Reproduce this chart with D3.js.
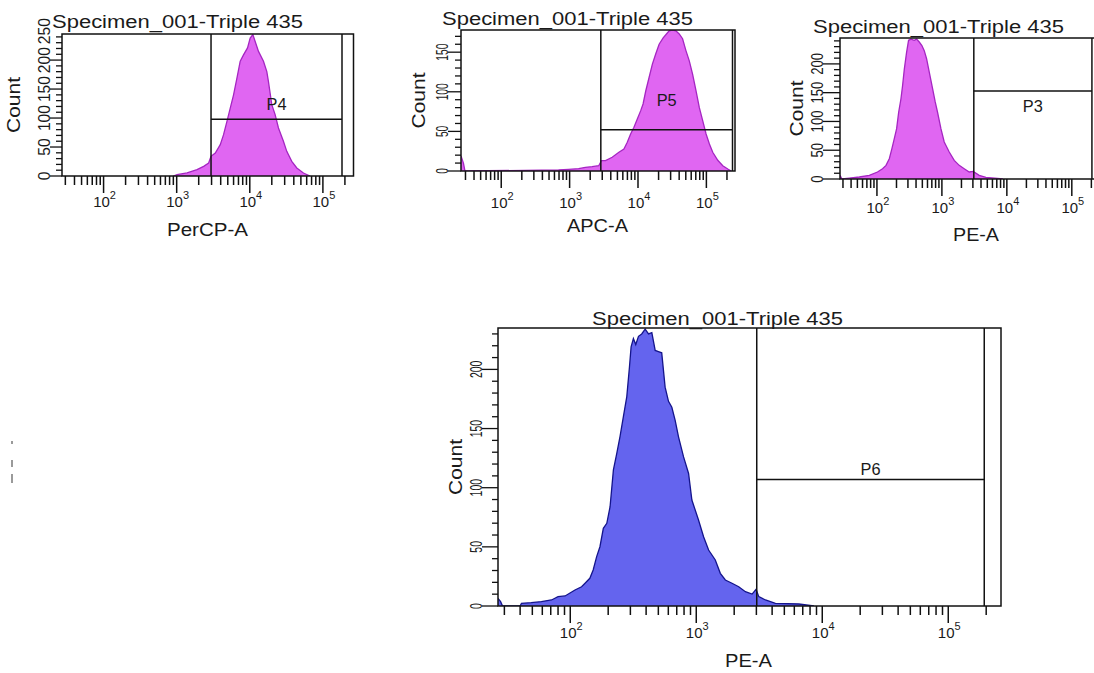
<!DOCTYPE html>
<html>
<head>
<meta charset="utf-8">
<script src="https://cdnjs.cloudflare.com/ajax/libs/d3/7.8.5/d3.min.js"></script>
<style>
  body { margin: 0; background: #fff; }
  svg { display: block; font-family: "Liberation Sans", Arial, sans-serif; fill: #1a1a1a; }
</style>
</head>
<body>
<div id="chart"></div>
<script>
// Define the width and height of the SVG
const width = 1094;
const height = 673;

// Histogram data: channel value -> event count
const perCpValues = [900, 1012, 1386, 1897, 2339, 2737, 2946, 3373, 3945, 4377, 4871, 5404, 5998, 6668, 7396, 8205,
  9311, 10122, 11015, 11846, 13149, 15385, 17096, 17997, 19994, 22206, 24669, 28844, 32054, 37510, 43952, 54128, 66681];
const perCpCounts = [0, 2.3, 5.2, 10.9, 16.7, 22.4, 33.9, 39.7, 54, 71.3, 94.3, 117, 140, 169, 198, 209,
  221, 238, 244, 232, 215, 198, 180, 163, 123, 106, 82.8, 59.8, 42.5, 25.3, 13.8, 5.2, 0];

const apcValues = [25.8, 28, 29.5, 689, 966, 1355, 1700, 2130, 2667, 2922, 3350, 4192, 5256, 6226, 6970,
  7800, 8730, 9770, 10960, 11860, 12980, 14520, 16230, 18200, 20370, 23330, 26080, 28580, 31990, 35810,
  40090, 44870, 50230, 56230, 62950, 70590, 78900, 88310, 99000, 110700, 123900, 146700, 173600, 205700, 230300];
const apcCounts = [19, 10, 0, 1.3, 2.1, 2.9, 4.6, 5.5, 6.7, 13, 13, 17.3, 23.6, 27.8, 36.2,
  46.7, 55.1, 65.7, 76.2, 84.6, 101, 118, 135, 148, 160, 168, 173, 177, 178, 177,
  173, 167, 152, 139, 122, 101, 80, 63.5, 46.7, 34, 23.6, 13.5, 6.7, 2.5, 0];

const peSmallValues = [27, 29, 37.5, 53.5, 76.3, 102, 122, 138, 155, 170, 185, 201, 216, 234, 248, 264, 286, 307,
  334, 375, 408, 448, 492, 535, 581, 638, 719, 789, 857, 966, 1086, 1297, 1549, 1847, 2205, 2633, 3033,
  3753, 4753, 6500, 8670];
const peSmallCounts = [6.4, 0, 1.7, 3.5, 6.4, 12.2, 17.9, 23.7, 35.3, 52.7, 70, 87.4, 116, 139, 162, 191, 220, 241,
  243, 241, 243, 238, 232, 223, 209, 186, 157, 134, 116, 87.4, 64.3, 46.9, 32.4, 23.7, 17.9, 12.2, 13.3,
  6.4, 2.9, 1.5, 0];

const peBigValues = [26.7, 28, 29, 40, 41, 49, 59, 71, 80, 91, 109, 123, 131, 143, 152, 162, 172, 183, 195, 207,
  220, 234, 248, 264, 281, 295, 304, 317, 331, 348, 369, 393, 418, 444, 472, 501, 532, 566, 602, 640,
  680, 723, 793, 869, 923, 1042, 1143, 1253, 1416, 1552, 1702, 1921, 2172, 2455, 2773, 2984, 3135, 3542,
  4250, 6510, 8580];
const peBigCounts = [6.5, 3.7, 0, 0, 2.3, 2.8, 3.7, 5.1, 7.9, 8.5, 13.5, 16.3, 19.2, 23.4, 30.4, 41.7, 50.1, 65.7, 69.9, 83.9,
  115, 129, 143, 160, 177, 202, 219, 226, 221, 228, 230, 234, 230, 231, 216, 215, 214, 185, 173, 168,
  157, 143, 126, 112, 89.6, 72.7, 58.6, 47.3, 38.9, 27.6, 22, 19.2, 16.3, 12.1, 10.1, 14.1, 7.9, 5.1,
  2.3, 1.7, 0];

// Per-plot texts, axis maxima and gates
const titles = ["Specimen_001-Triple 435", "Specimen_001-Triple 435", "Specimen_001-Triple 435", "Specimen_001-Triple 435"];
const xLabels = ["PerCP-A", "APC-A", "PE-A", "PE-A"];
const xMins = [27, 25.8, 27, 26.7];
const xMax = 262144;
const yMaxes = [245, 178, 245, 235];
const yLabelMaxes = [250, 150, 200, 200];
const gateNames = ["P4", "P5", "P3", "P6"];
const gateLows = [2950, 2860, 3100, 3020];
const gateHighs = [182500, 241000, 204000, 193000];
const gateLevels = [98, 52, 153, 107];
const gateLabelLevels = [114, 82, 116, 111];

const seriesValues = [perCpValues, apcValues, peSmallValues, peBigValues];
const seriesCounts = [perCpCounts, apcCounts, peSmallCounts, peBigCounts];

// Layout / style of each plot (pixels)
const layouts = [
  { l: 62, t: 34, r: 353.5, b: 176, titleX: 52, titleY: 28, tickY: 207, labelX: 207.5, labelY: 236, labelW: 81,
    countX: 20, yLabOff: 12, digitW: 8.7, fill: "#e066f2", stroke: "#a526c2" },
  { l: 461, t: 30, r: 735, b: 171, titleX: 442, titleY: 25, tickY: 208, labelX: 597.5, labelY: 232, labelW: 61,
    countX: 425, yLabOff: 13, digitW: 5.7, fill: "#e066f2", stroke: "#a526c2" },
  { l: 840, t: 38, r: 1099, b: 179, titleX: 813, titleY: 33, tickY: 213, labelX: 976, labelY: 241, labelW: 46,
    countX: 803, yLabOff: 17, digitW: 7.3, fill: "#e066f2", stroke: "#a526c2" },
  { l: 498, t: 328, r: 1001, b: 606, titleX: 592, titleY: 325, tickY: 638, labelX: 748.5, labelY: 667, labelW: 47,
    countX: 462, yLabOff: 16, digitW: 5.8, fill: "#6464ee", stroke: "#14148c" }
];

// Append the SVG to the container
const svg = d3.select("#chart")
  .append("svg")
  .attr("width", width)
  .attr("height", height);

svg.append("rect").attr("width", width).attr("height", height).attr("fill", "#fff");

layouts.forEach((lay, i) => {
  const g = svg.append("g");

  const x = d3.scaleLog().domain([xMins[i], xMax]).range([lay.l, lay.r]);
  const y = d3.scaleLinear().domain([0, yMaxes[i]]).range([lay.b, lay.t]);

  const data = seriesValues[i].map((v, k) => ({ v: v, c: seriesCounts[i][k] }));

  // clip the histogram to the plot box
  const clipId = "clip" + i;
  svg.append("clipPath").attr("id", clipId)
    .append("rect")
    .attr("x", lay.l).attr("y", lay.t)
    .attr("width", lay.r - lay.l).attr("height", lay.b - lay.t);

  const area = d3.area()
    .x(d => x(d.v))
    .y0(y(0))
    .y1(d => y(d.c));
  const line = d3.line()
    .x(d => x(d.v))
    .y(d => y(d.c));

  g.append("path")
    .datum(data)
    .attr("clip-path", `url(#${clipId})`)
    .attr("d", area)
    .attr("fill", lay.fill);
  g.append("path")
    .datum(data)
    .attr("clip-path", `url(#${clipId})`)
    .attr("d", line)
    .attr("fill", "none")
    .attr("stroke", lay.stroke)
    .attr("stroke-width", 1.3);

  // plot box
  g.append("rect")
    .attr("x", lay.l).attr("y", lay.t)
    .attr("width", lay.r - lay.l).attr("height", lay.b - lay.t)
    .attr("fill", "none")
    .attr("stroke", "#111")
    .attr("stroke-width", 1.5);

  // gate: two verticals and a horizontal bar
  const gx0 = x(gateLows[i]), gx1 = x(gateHighs[i]);
  [gx0, gx1].forEach(gx => {
    g.append("line")
      .attr("x1", gx).attr("x2", gx)
      .attr("y1", lay.t).attr("y2", lay.b)
      .attr("stroke", "#111").attr("stroke-width", 1.5);
  });
  g.append("line")
    .attr("x1", gx0).attr("x2", gx1)
    .attr("y1", y(gateLevels[i])).attr("y2", y(gateLevels[i]))
    .attr("stroke", "#111").attr("stroke-width", 1.5);
  g.append("text")
    .attr("x", (gx0 + gx1) / 2)
    .attr("y", y(gateLabelLevels[i]))
    .attr("text-anchor", "middle")
    .attr("font-size", 16)
    .attr("textLength", 20)
    .attr("lengthAdjust", "spacingAndGlyphs")
    .text(gateNames[i]);

  // x ticks on the log axis
  const xTicks = [];
  for (let n = 1; n <= 5; n++) {
    for (let k = 1; k <= 9; k++) {
      const v = k * Math.pow(10, n);
      if (v >= xMins[i] && v <= xMax) xTicks.push({ v: v, major: k === 1, n: n });
    }
  }
  g.selectAll(".xt")
    .data(xTicks)
    .enter()
    .append("line")
    .attr("x1", d => x(d.v)).attr("x2", d => x(d.v))
    .attr("y1", lay.b).attr("y2", d => lay.b + (d.major ? 17 : 9))
    .attr("stroke", "#111").attr("stroke-width", 1.5);

  const xLab = g.selectAll(".xl")
    .data(xTicks.filter(d => d.major))
    .enter()
    .append("text")
    .attr("x", d => x(d.v) + 1)
    .attr("y", lay.tickY)
    .attr("text-anchor", "middle")
    .attr("font-size", 15);
  xLab.append("tspan").text("10");
  xLab.append("tspan").attr("dy", -8).attr("font-size", 11).text(d => d.n);

  // y ticks every 10 counts, labels every 50
  const yTicks = d3.range(0, yMaxes[i] + 0.1, 10);
  g.selectAll(".yt")
    .data(yTicks)
    .enter()
    .append("line")
    .attr("x1", d => lay.l - (d % 50 === 0 ? lay.yLabOff : 6)).attr("x2", lay.l)
    .attr("y1", d => y(d)).attr("y2", d => y(d))
    .attr("stroke", "#111").attr("stroke-width", 1.3);

  g.selectAll(".yl")
    .data(d3.range(0, yLabelMaxes[i] + 1, 50))
    .enter()
    .append("text")
    .attr("transform", d => `translate(${lay.l - lay.yLabOff},${y(d)}) rotate(-90)`)
    .attr("text-anchor", "middle")
    .attr("font-size", 17)
    .attr("textLength", d => String(d).length * lay.digitW)
    .attr("lengthAdjust", "spacingAndGlyphs")
    .text(d => d);

  // titles and axis names
  g.append("text")
    .attr("x", lay.titleX).attr("y", lay.titleY)
    .attr("font-size", 18)
    .attr("textLength", 251)
    .attr("lengthAdjust", "spacingAndGlyphs")
    .text(titles[i]);

  g.append("text")
    .attr("x", lay.labelX).attr("y", lay.labelY)
    .attr("text-anchor", "middle")
    .attr("font-size", 18)
    .attr("textLength", lay.labelW)
    .attr("lengthAdjust", "spacingAndGlyphs")
    .text(xLabels[i]);

  g.append("text")
    .attr("transform", `translate(${lay.countX},${(lay.t + lay.b) / 2}) rotate(-90)`)
    .attr("text-anchor", "middle")
    .attr("font-size", 18)
    .attr("textLength", 56)
    .attr("lengthAdjust", "spacingAndGlyphs")
    .text("Count");
});

// faint leftover marks at the left edge of the picture
[[441, 3], [460, 7], [474, 9]].forEach(([top, h]) => {
  svg.append("rect").attr("x", 11).attr("y", top).attr("width", 2).attr("height", h).attr("fill", "#9a9a9a");
});
</script>
</body>
</html>
